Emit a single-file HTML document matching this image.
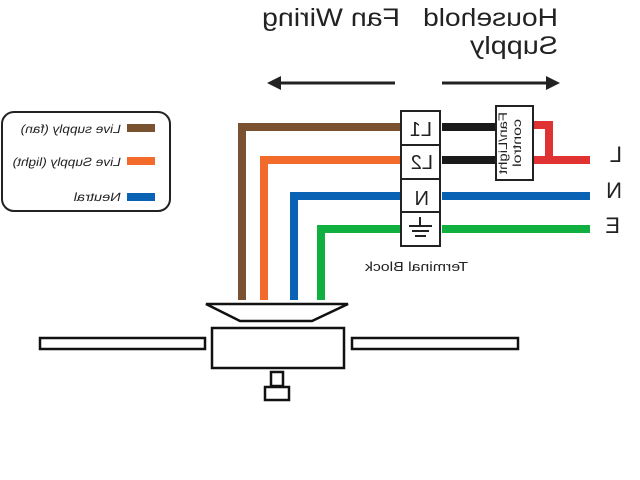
<!DOCTYPE html>
<html><head><meta charset="utf-8"><style>
html,body{margin:0;padding:0;background:#fff;}
svg{display:block;font-family:"Liberation Sans",sans-serif;}
</style></head><body>
<svg width="640" height="480" viewBox="0 0 640 480">
<!-- header -->
<text transform="translate(558,26) scale(-1,1)" font-size="25" fill="#222" textLength="135" lengthAdjust="spacingAndGlyphs">Household</text>
<text transform="translate(400,26) scale(-1,1)" font-size="25" fill="#222" textLength="138" lengthAdjust="spacingAndGlyphs">Fan Wiring</text>
<text transform="translate(558,54) scale(-1,1)" font-size="25" fill="#222" textLength="88" lengthAdjust="spacingAndGlyphs">Supply</text>
<line x1="278" y1="83" x2="395" y2="83" stroke="#222" stroke-width="3"/>
<polygon points="267,83 281,76 281,90" fill="#222"/>
<line x1="442" y1="83" x2="550" y2="83" stroke="#222" stroke-width="3"/>
<polygon points="560,83 546,76 546,90" fill="#222"/>
<!-- legend -->
<rect x="2" y="112" width="168" height="99" rx="12" fill="none" stroke="#222" stroke-width="2"/>
<rect x="127" y="124" width="28" height="8" fill="#7a5230"/>
<rect x="127" y="157" width="28" height="8" fill="#f26b2a"/>
<rect x="127" y="193" width="28" height="8" fill="#0a62b5"/>
<g font-size="12" fill="#222">
<text transform="translate(120,133) scale(-1,1) skewX(12)" textLength="100" lengthAdjust="spacingAndGlyphs">Live supply (fan)</text>
<text transform="translate(120,166) scale(-1,1) skewX(12)" textLength="108" lengthAdjust="spacingAndGlyphs">Live Supply (light)</text>
<text transform="translate(120,201) scale(-1,1) skewX(12)" textLength="47" lengthAdjust="spacingAndGlyphs">Neutral</text>
</g>
<!-- wires -->
<g fill="none" stroke-width="8">
<polyline points="242,300 242,127 400,127" stroke="#7a5230"/>
<polyline points="264,300 264,160 400,160" stroke="#f26b2a"/>
<polyline points="294,300 294,196 400,196" stroke="#0a62b5"/>
<polyline points="321,300 321,229 400,229" stroke="#10b040"/>
<line x1="442" y1="127" x2="497" y2="127" stroke="#1a1a1a"/>
<line x1="442" y1="160" x2="497" y2="160" stroke="#1a1a1a"/>
<line x1="442" y1="196" x2="590" y2="196" stroke="#0a62b5"/>
<line x1="442" y1="229" x2="590" y2="229" stroke="#10b040"/>
<line x1="532" y1="160" x2="590" y2="160" stroke="#e03232"/>
<polyline points="532,125 549,125 549,160" stroke="#e03232"/>
</g>
<!-- terminal block -->
<rect x="401" y="111" width="39" height="135" fill="#fff" stroke="#222" stroke-width="2"/>
<line x1="401" y1="145" x2="440" y2="145" stroke="#222" stroke-width="2"/>
<line x1="401" y1="179" x2="440" y2="179" stroke="#222" stroke-width="2"/>
<line x1="401" y1="212" x2="440" y2="212" stroke="#222" stroke-width="2"/>
<g font-size="20" fill="#222">
<text transform="translate(432,136) scale(-1,1)">L1</text>
<text transform="translate(433,169) scale(-1,1)">L2</text>
<text transform="translate(429,205) scale(-1,1)">N</text>
</g>
<g stroke="#222" stroke-width="2">
<line x1="420" y1="217" x2="420" y2="226"/>
<line x1="409" y1="226" x2="432" y2="226"/>
<line x1="412" y1="231" x2="429" y2="231"/>
<line x1="415" y1="236" x2="426" y2="236"/>
</g>
<text transform="translate(468,271) scale(-1,1)" font-size="13" fill="#222" textLength="103" lengthAdjust="spacingAndGlyphs">Terminal Block</text>
<!-- control box -->
<rect x="496" y="106" width="37" height="74" fill="#fff" stroke="#222" stroke-width="2"/>
<g font-size="12" fill="#222">
<text transform="translate(507,112) rotate(90) scale(1,-1)" textLength="62" lengthAdjust="spacingAndGlyphs">Fan/Light</text>
<text transform="translate(521,119) rotate(90) scale(1,-1)" textLength="48" lengthAdjust="spacingAndGlyphs">control</text>
</g>
<g font-size="22" fill="#222">
<text transform="translate(622,162) scale(-1,1)">L</text>
<text transform="translate(622,198) scale(-1,1)">N</text>
<text transform="translate(620,233) scale(-1,1)">E</text>
</g>
<!-- fan -->
<g fill="#fff" stroke="#111" stroke-width="2.5">
<polygon points="206,304 348,304 312,321 240,321"/>
<rect x="212" y="328" width="132" height="40"/>
<rect x="40" y="338" width="165" height="11"/>
<rect x="352" y="338" width="166" height="11"/>
<rect x="271" y="372" width="12" height="14"/>
<rect x="265" y="387" width="24" height="13"/>
</g>
</svg>
</body></html>
